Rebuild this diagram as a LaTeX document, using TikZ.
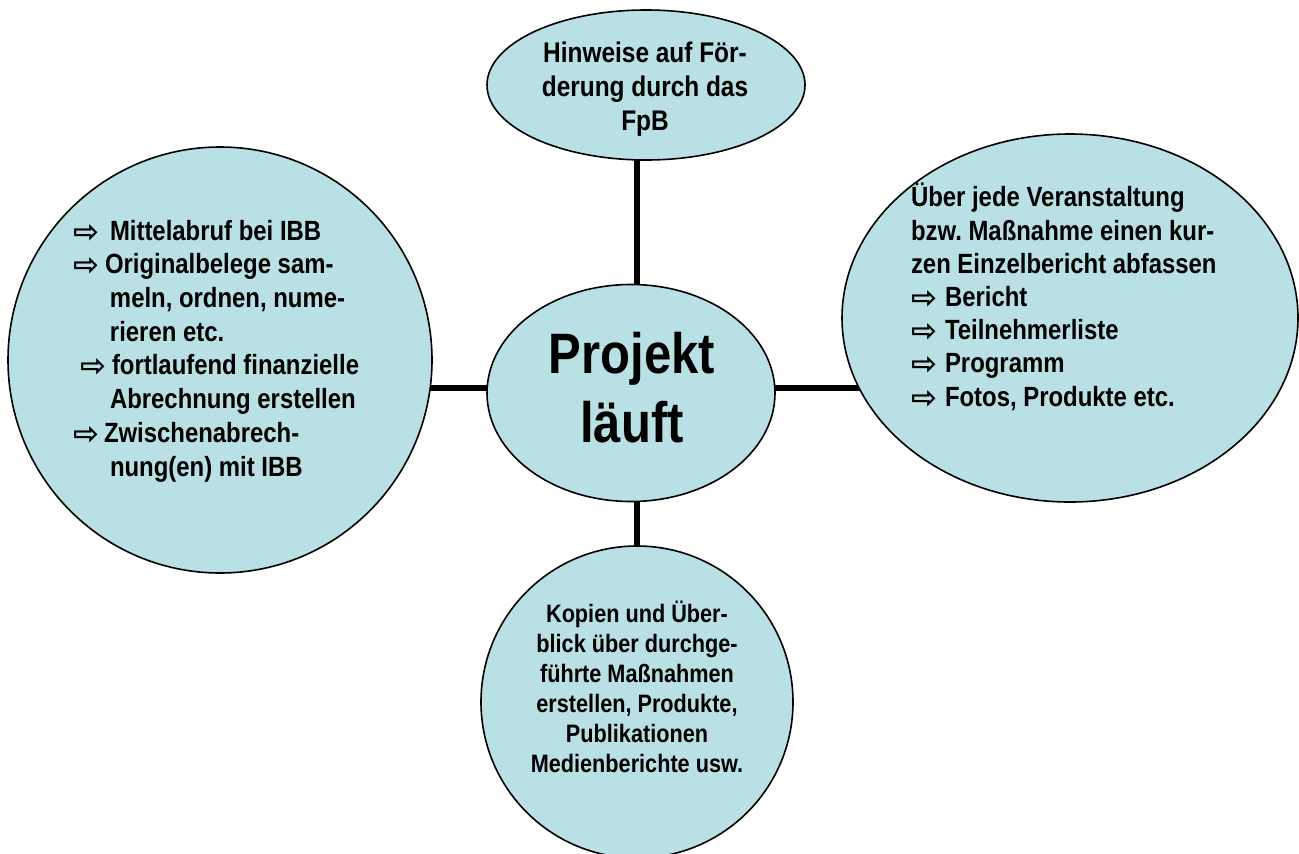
\documentclass[tikz,border=0pt]{standalone}
\usepackage{fontspec}
\setmainfont{Liberation Sans}[FakeStretch=0.86]
\newfontfamily\arrfont{DejaVu Sans}
\usetikzlibrary{shapes.geometric,backgrounds}
\definecolor{bubblefill}{RGB}{185,224,228}
\newcommand\pfeil[1]{\makebox[#1][l]{\raisebox{-2pt}{\arrfont\bfseries\fontsize{31}{31}\selectfont ⇨}}}
\frenchspacing
\begin{document}
\begin{tikzpicture}[x=1pt,y=-1pt,
  bubble/.style={ellipse,draw=black,line width=1.6pt,fill=bubblefill,inner sep=0pt,outer sep=0pt},
  link/.style={line width=5.5pt},
  txt/.style={inner sep=0pt,outer sep=0pt}]
\useasboundingbox (0,0) rectangle (1299,854);
\node[bubble,minimum width=318pt,minimum height=150pt] (t) at (646,85) {};
\node[bubble,minimum width=424pt,minimum height=426pt] (l) at (220,360) {};
\node[bubble,minimum width=288pt,minimum height=217pt] (c) at (631,393) {};
\node[bubble,minimum width=456pt,minimum height=368pt] (r) at (1070,318) {};
\node[bubble,minimum width=312pt,minimum height=312pt] (b) at (637,702) {};
\coordinate (hub) at (637,388);
\begin{scope}[on background layer]
\draw[link] (hub) -- (hub |- t.center);
\draw[link] (hub) -- (hub |- b.center);
\draw[link] (hub) -- (l.center |- hub);
\draw[link] (hub) -- (r.center |- hub);
\end{scope}
\node[txt,font=\bfseries\fontsize{28.4}{34}\selectfont,align=center,anchor=base] (tt) at (645,130)
  {Hinweise auf För-\\derung durch das\\FpB};
\node[txt,font=\bfseries\fontsize{57}{69}\selectfont,align=center,anchor=base] (ct) at (632,442)
  {Projekt\\läuft};
\node[txt,font=\bfseries\fontsize{27.8}{33.7}\selectfont,align=left,anchor=base west] (lt) at (73,476)
  {\pfeil{37pt}Mittelabruf bei IBB\\
   \pfeil{32pt}Originalbelege sam-\\
   \hspace*{37pt}meln, ordnen, nume-\\
   \hspace*{37pt}rieren etc.\\
   \hspace*{7pt}\pfeil{32pt}fortlaufend finanzielle\\
   \hspace*{37pt}Abrechnung erstellen\\
   \pfeil{31pt}Zwischenabrech-\\
   \hspace*{37pt}nung(en) mit IBB};
\node[txt,font=\bfseries\fontsize{27.8}{33.2}\selectfont,align=left,anchor=base west] (rt) at (911,406)
  {Über jede Veranstaltung\\
   bzw. Maßnahme einen kur-\\
   zen Einzelbericht abfassen\\
   \pfeil{34pt}Bericht\\
   \pfeil{34pt}Teilnehmerliste\\
   \pfeil{34pt}Programm\\
   \pfeil{34pt}Fotos, Produkte etc.};
\node[txt,font=\bfseries\fontsize{25.2}{30}\selectfont,align=center,anchor=base] (bt) at (637,772)
  {Kopien und Über-\\blick über durchge-\\führte Maßnahmen\\erstellen, Produkte,\\Publikationen\\Medienberichte usw.};
\end{tikzpicture}
\end{document}
